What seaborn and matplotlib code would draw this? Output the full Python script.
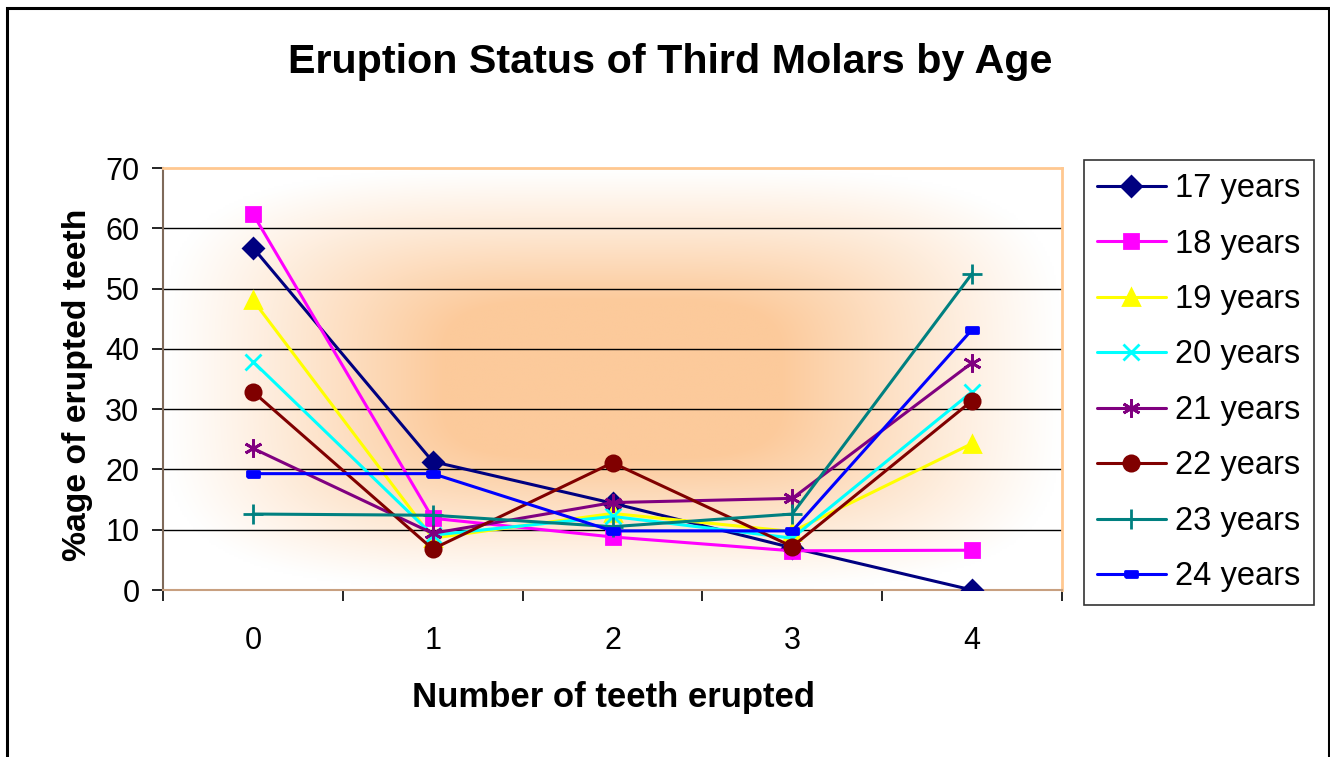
import numpy as np
import pandas as pd
import matplotlib
matplotlib.use("Agg")
import matplotlib.pyplot as plt
import seaborn as sns
from matplotlib.patches import Rectangle
from matplotlib.ticker import FixedLocator

# ---- data ----
teeth = [0, 1, 2, 3, 4]
ages = ["17 years", "18 years", "19 years", "20 years",
        "21 years", "22 years", "23 years", "24 years"]
v17 = [56.8, 21.3, 14.4, 7.0, 0.0]
v18 = [62.4, 11.9, 8.8, 6.5, 6.6]
v19 = [48.1, 8.6, 12.7, 9.7, 24.3]
v20 = [37.9, 9.1, 12.2, 8.6, 32.9]
v21 = [23.5, 9.4, 14.5, 15.2, 37.7]
v22 = [32.9, 6.8, 21.1, 7.2, 31.4]
v23 = [12.6, 12.4, 10.5, 12.6, 52.5]
v24 = [19.3, 19.3, 9.8, 9.8, 43.2]
values = [v17, v18, v19, v20, v21, v22, v23, v24]
yticks = [0, 10, 20, 30, 40, 50, 60, 70]

colors = ["#000080", "#FF00FF", "#FFFF00", "#00FFFF",
          "#800080", "#800000", "#008080", "#0000FF"]
dash_marker = [(-1, -0.45), (1, -0.45), (1, 0.45), (-1, 0.45), (-1, -0.45)]
markers = ["D", "s", "^", "x", (6, 2, 0), "o", "+", dash_marker]
msizes = [10, 10, 11, 11, 13, 11, 14, 9]

df = pd.DataFrame({
    "teeth": np.tile(teeth, len(ages)),
    "pct": np.concatenate(values),
    "age": np.repeat(ages, len(teeth)),
})

sns.set_style("white")
plt.rcParams["font.family"] = ["Liberation Sans", "DejaVu Sans"]
plt.rcParams["text.color"] = "black"
plt.rcParams["xtick.color"] = "black"
plt.rcParams["ytick.color"] = "black"
plt.rcParams["xtick.labelcolor"] = "black"
plt.rcParams["ytick.labelcolor"] = "black"

W, H = 1330, 757
fig = plt.figure(figsize=(W / 100, H / 100), dpi=100)
L, R, T, B = 163, 1062, 168, 590
ax = fig.add_axes([L / W, 1 - B / H, (R - L) / W, (B - T) / H])

# outer frame
fig.patches.append(Rectangle((7 / W, -0.01), (1329 - 7) / W, 1 - 8 / H + 0.01,
                             transform=fig.transFigure, fill=False,
                             edgecolor="black", linewidth=2.2, zorder=0))

# gradient background
nx, ny = 400, 200
u = np.linspace(-1, 1, nx)
v = np.linspace(-1, 1, ny)
U, V = np.meshgrid(u, v)
p = 4.0
d = (np.abs(U) ** p + np.abs(V) ** p) ** (1 / p)
t = np.clip(1 - d, 0, 1)
t = np.clip(t * 1.6, 0, 1) ** 1.1
center = np.array([252, 202, 155]) / 255
img = np.ones((ny, nx, 3)) * (1 - t[..., None]) + center * t[..., None]
ax.imshow(img, extent=(-0.5, 4.5, 0, 70), aspect="auto", zorder=0,
          interpolation="bilinear")

ax.grid(False)
for yv in yticks[1:-1]:
    ax.axhline(yv, color="black", linewidth=1.0, zorder=1)

for age, col, mk, ms in zip(ages, colors, markers, msizes):
    sub = df[df["age"] == age]
    sns.lineplot(data=sub, x="teeth", y="pct", ax=ax, color=col,
                 marker=mk, markersize=ms, linewidth=2.2,
                 markeredgecolor=col, markerfacecolor=col,
                 markeredgewidth=2.0, label=age, zorder=3)

ax.set_xlim(-0.5, 4.5)
ax.set_ylim(0, 70)
ax.xaxis.set_major_locator(FixedLocator(teeth))
ax.set_xticks([x - 0.5 for x in teeth] + [4.5], minor=True)
ax.set_yticks(yticks)
ax.tick_params(axis="x", which="major", length=0, pad=26, labelsize=22)
ax.tick_params(axis="x", which="minor", length=8, width=1.2, color="black",
               direction="out")
ax.tick_params(axis="y", which="major", length=8, width=1.2, color="black",
               direction="out", pad=9, labelsize=22)
ax.tick_params(left=True, bottom=True, which="both")

for s in ["top", "right"]:
    ax.spines[s].set_color("#FFC890")
    ax.spines[s].set_linewidth(2)
ax.spines["left"].set_color("#7F6A5A")
ax.spines["left"].set_linewidth(1.5)
ax.spines["bottom"].set_color("#C8A080")
ax.spines["bottom"].set_linewidth(1.5)

ax.set_xlabel("")
ax.set_ylabel("")
fig.text(670 / W, 1 - 62 / H, "Eruption Status of Third Molars by Age",
         ha="center", va="center", fontsize=29.7, fontweight="bold")
fig.text(613 / W, 1 - 697 / H, "Number of teeth erupted",
         ha="center", va="center", fontsize=25, fontweight="bold")
fig.text(78 / W, 1 - 385 / H, "%age of erupted teeth", rotation=90,
         ha="center", va="center", fontsize=24.3, fontweight="bold")

if ax.legend_:
    ax.legend_.remove()
handles, labels = ax.get_legend_handles_labels()
leg = fig.legend(handles, labels, loc="upper left",
                 bbox_to_anchor=(1084 / W, 1 - 160 / H),
                 bbox_transform=fig.transFigure,
                 fontsize=23.5, frameon=True, fancybox=False,
                 edgecolor="black", handlelength=2.1, handletextpad=0.3,
                 labelspacing=0.75, borderpad=0.4, borderaxespad=0)
leg.get_frame().set_linewidth(1.2)

fig.savefig("out.png", dpi=100)
